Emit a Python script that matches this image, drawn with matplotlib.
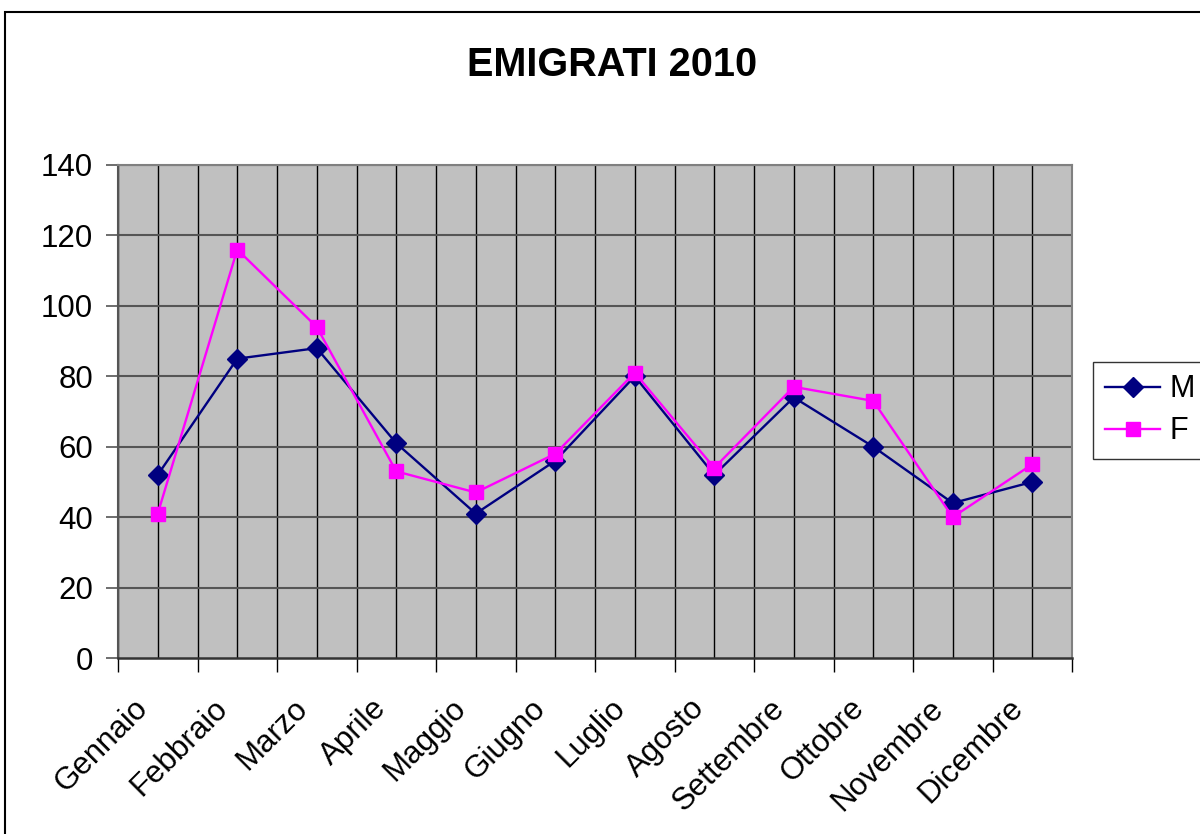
#!/usr/bin/env python3
"""
EMIGRATI 2010 - monthly line chart, M vs F
"""

import matplotlib
matplotlib.use('Agg')
import matplotlib.pyplot as plt
import matplotlib.transforms as mtransforms
from matplotlib.patches import Rectangle
import numpy as np

months = ['Gennaio', 'Febbraio', 'Marzo', 'Aprile', 'Maggio', 'Giugno',
          'Luglio', 'Agosto', 'Settembre', 'Ottobre', 'Novembre', 'Dicembre']
male = [52, 85, 88, 61, 41, 56, 80, 52, 74, 60, 44, 50]
female = [41, 116, 94, 53, 47, 58, 81, 54, 77, 73, 40, 55]
y_ticks = [0, 20, 40, 60, 80, 100, 120, 140]

plt.rcParams['font.family'] = ['Liberation Sans', 'DejaVu Sans']

fig = plt.figure(figsize=(12, 8.34), dpi=100)
ax = fig.add_axes([118 / 1200, 1 - 658 / 834, (1072 - 118) / 1200, (658 - 165) / 834])
ax.set_facecolor('#C0C0C0')

x = np.arange(len(months))
ax.plot(x, male, color='#000080', marker='D', markersize=10, linewidth=1.7,
        label='M', zorder=3)
ax.plot(x, female, color='#FF00FF', marker='s', markersize=9.5, linewidth=1.7,
        label='F', zorder=3)

ax.set_xlim(-0.5, len(months) - 0.5)
ax.set_ylim(0, 140)

# category centers carry labels, boundaries carry tick marks
ax.set_xticks(x)
ax.set_xticklabels(months, rotation=45, ha='right', va='center',
                   rotation_mode='anchor', fontsize=22.5)
ax.set_xticks(np.arange(-0.5, len(months), 1.0), minor=True)
ax.tick_params(axis='x', which='major', length=0, pad=33)
ax.tick_params(axis='x', which='minor', length=10, width=1, color='black',
               direction='out')
shift = mtransforms.ScaledTranslation(-14 / 100, 0, fig.dpi_scale_trans)
for lbl in ax.get_xticklabels():
    lbl.set_transform(lbl.get_transform() + shift)

ax.set_yticks(y_ticks)
ax.set_yticklabels([str(v) for v in y_ticks], fontsize=22.5)
ax.tick_params(axis='y', length=9, width=1.2, color='#555555', pad=9)

# grid
for xv in np.arange(-0.5, len(months), 0.5):
    ax.axvline(xv, color='black', linewidth=1, zorder=1)
for yv in y_ticks[1:]:
    ax.axhline(yv, color='#555555', linewidth=1.5, zorder=1)

for side in ['top', 'right']:
    ax.spines[side].set_color('#808080')
    ax.spines[side].set_linewidth(1.5)
ax.spines['left'].set_color('#555555')
ax.spines['left'].set_linewidth(1.5)
ax.spines['bottom'].set_color('#333333')
ax.spines['bottom'].set_linewidth(1.8)

fig.text(612 / 1200, 1 - 65 / 834, 'EMIGRATI 2010', fontsize=28.5,
         fontweight='bold', ha='center', va='center')

leg = ax.legend(loc='upper left', bbox_to_anchor=(1093 / 1200, 1 - 362 / 834),
                bbox_transform=fig.transFigure, borderaxespad=0, fontsize=22,
                frameon=True, fancybox=False, edgecolor='black',
                handlelength=1.8, handletextpad=0.3, borderpad=0.4,
                labelspacing=0.4)
leg.get_frame().set_linewidth(1)

# outer chart frame
fig.patches.append(Rectangle((5 / 1200, -0.05), 1.2, 1 - 12 / 834 + 0.05,
                             transform=fig.transFigure, fill=False,
                             edgecolor='black', linewidth=1.5))

plt.savefig('out.png', dpi=100)
plt.close()
